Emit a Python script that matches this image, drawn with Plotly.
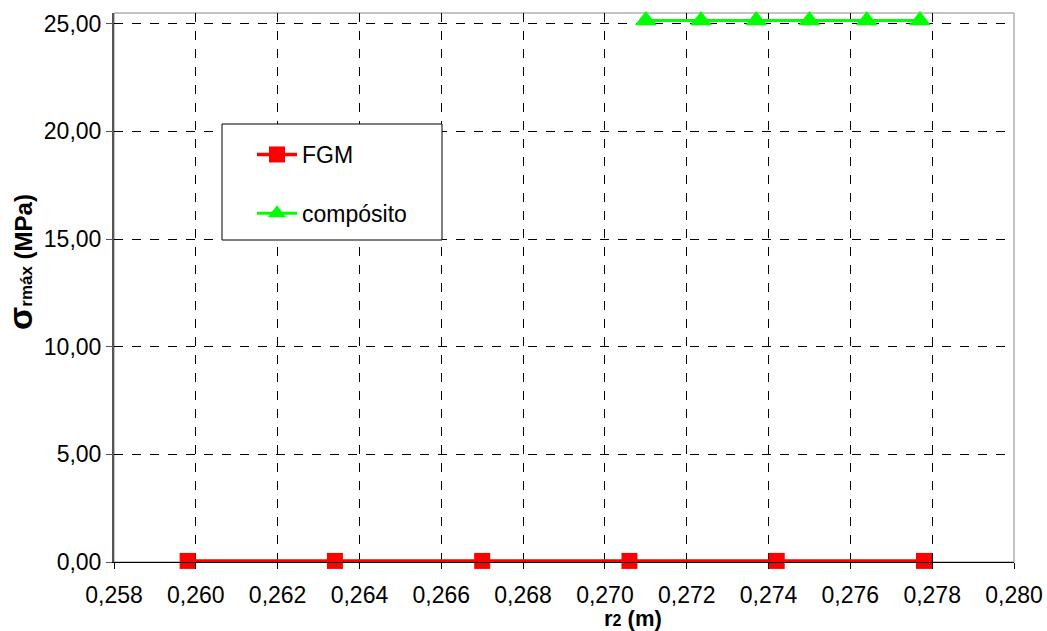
import plotly.graph_objects as go

# Radial stress maximum vs outer radius r2
fgm_r2 = [0.2598, 0.2634, 0.2670, 0.2706, 0.2742, 0.2778]
fgm_sigma = [0.05, 0.05, 0.05, 0.05, 0.05, 0.05]

comp_r2 = [0.2710, 0.27235, 0.2737, 0.2750, 0.2764, 0.2777]
comp_sigma = [25.15, 25.15, 25.15, 25.15, 25.15, 25.15]

x_ticks = [0.258, 0.260, 0.262, 0.264, 0.266, 0.268, 0.270,
           0.272, 0.274, 0.276, 0.278, 0.280]
y_ticks = [0, 5, 10, 15, 20, 25]

font_family = "Liberation Sans, Arial, sans-serif"

# plot area in pixels
L, R, T, B = 114, 1014, 13, 562
PW, PH = R - L, B - T

fig = go.Figure()
fig.add_trace(go.Scatter(
    x=fgm_r2, y=fgm_sigma, name="FGM", mode="lines+markers",
    line=dict(color="#ff0000", width=3.5),
    marker=dict(symbol="square", size=16, color="#ff0000"),
    cliponaxis=False, legendgroup="a",
))
fig.add_trace(go.Scatter(
    x=comp_r2, y=comp_sigma, name="compósito", mode="lines+markers",
    line=dict(color="#00ff00", width=3),
    marker=dict(symbol="triangle-up", size=19, color="#00ff00"),
    cliponaxis=False, legendgroup="b",
))

# Legend frame
fig.add_shape(type="rect", xref="paper", yref="paper",
              x0=(222 - L) / PW, x1=(442 - L) / PW,
              y0=(B - 240) / PH, y1=(B - 124) / PH,
              line=dict(color="#000000", width=1), fillcolor="white",
              layer="above")

# Plot area frame on top and right
fig.add_shape(type="rect", xref="paper", yref="paper", x0=0, x1=1, y0=0, y1=1,
              line=dict(color="#888888", width=1), layer="below")

# Axis titles
fig.add_annotation(
    text="<b>r<span style='font-size:16px'>2</span> (m)</b>",
    xref="paper", yref="paper", x=(633 - L) / PW, y=(B - 618) / PH,
    xanchor="center", yanchor="middle", showarrow=False,
    font=dict(size=22, family=font_family, color="#000000"),
)
fig.add_annotation(
    text="<b><span style='font-size:34px'>σ</span>"
         "<span style='font-size:17px'>rmáx</span> (MPa)</b>",
    xref="paper", yref="paper", x=(20 - L) / PW, y=(B - 262) / PH,
    xanchor="center", yanchor="middle", textangle=-90, showarrow=False,
    font=dict(size=24, family=font_family, color="#000000"),
)

fig.update_layout(
    width=1047, height=631,
    margin=dict(l=L, r=1047 - R, t=T, b=631 - B),
    paper_bgcolor="white", plot_bgcolor="white",
    separators=",.",
    font=dict(family=font_family, size=23, color="#000000"),
    showlegend=True,
    legend=dict(
        x=(252 - L) / PW, y=(B - 133) / PH,
        xanchor="left", yanchor="top",
        bgcolor="rgba(0,0,0,0)", borderwidth=0,
        font=dict(size=23, family=font_family),
        tracegroupgap=26, itemwidth=40,
    ),
    xaxis=dict(
        range=[0.258, 0.280], tickvals=x_ticks, tickformat=".3f",
        showgrid=True, gridcolor="#000000", griddash="dash", gridwidth=1,
        showline=True, linecolor="#000000", linewidth=1, mirror=False,
        ticks="outside", ticklen=6, tickcolor="#000000",
        ticklabelstandoff=6,
        zeroline=False, automargin=False,
        tickfont=dict(size=23),
    ),
    yaxis=dict(
        range=[0, 25.5], tickvals=y_ticks, tickformat=".2f",
        showgrid=True, gridcolor="#000000", griddash="dash", gridwidth=1,
        showline=True, linecolor="#555555", linewidth=2,
        ticks="outside", ticklen=6, tickcolor="#555555",
        zeroline=False, automargin=False,
        tickfont=dict(size=23),
    ),
)

fig.write_html("out.html")
